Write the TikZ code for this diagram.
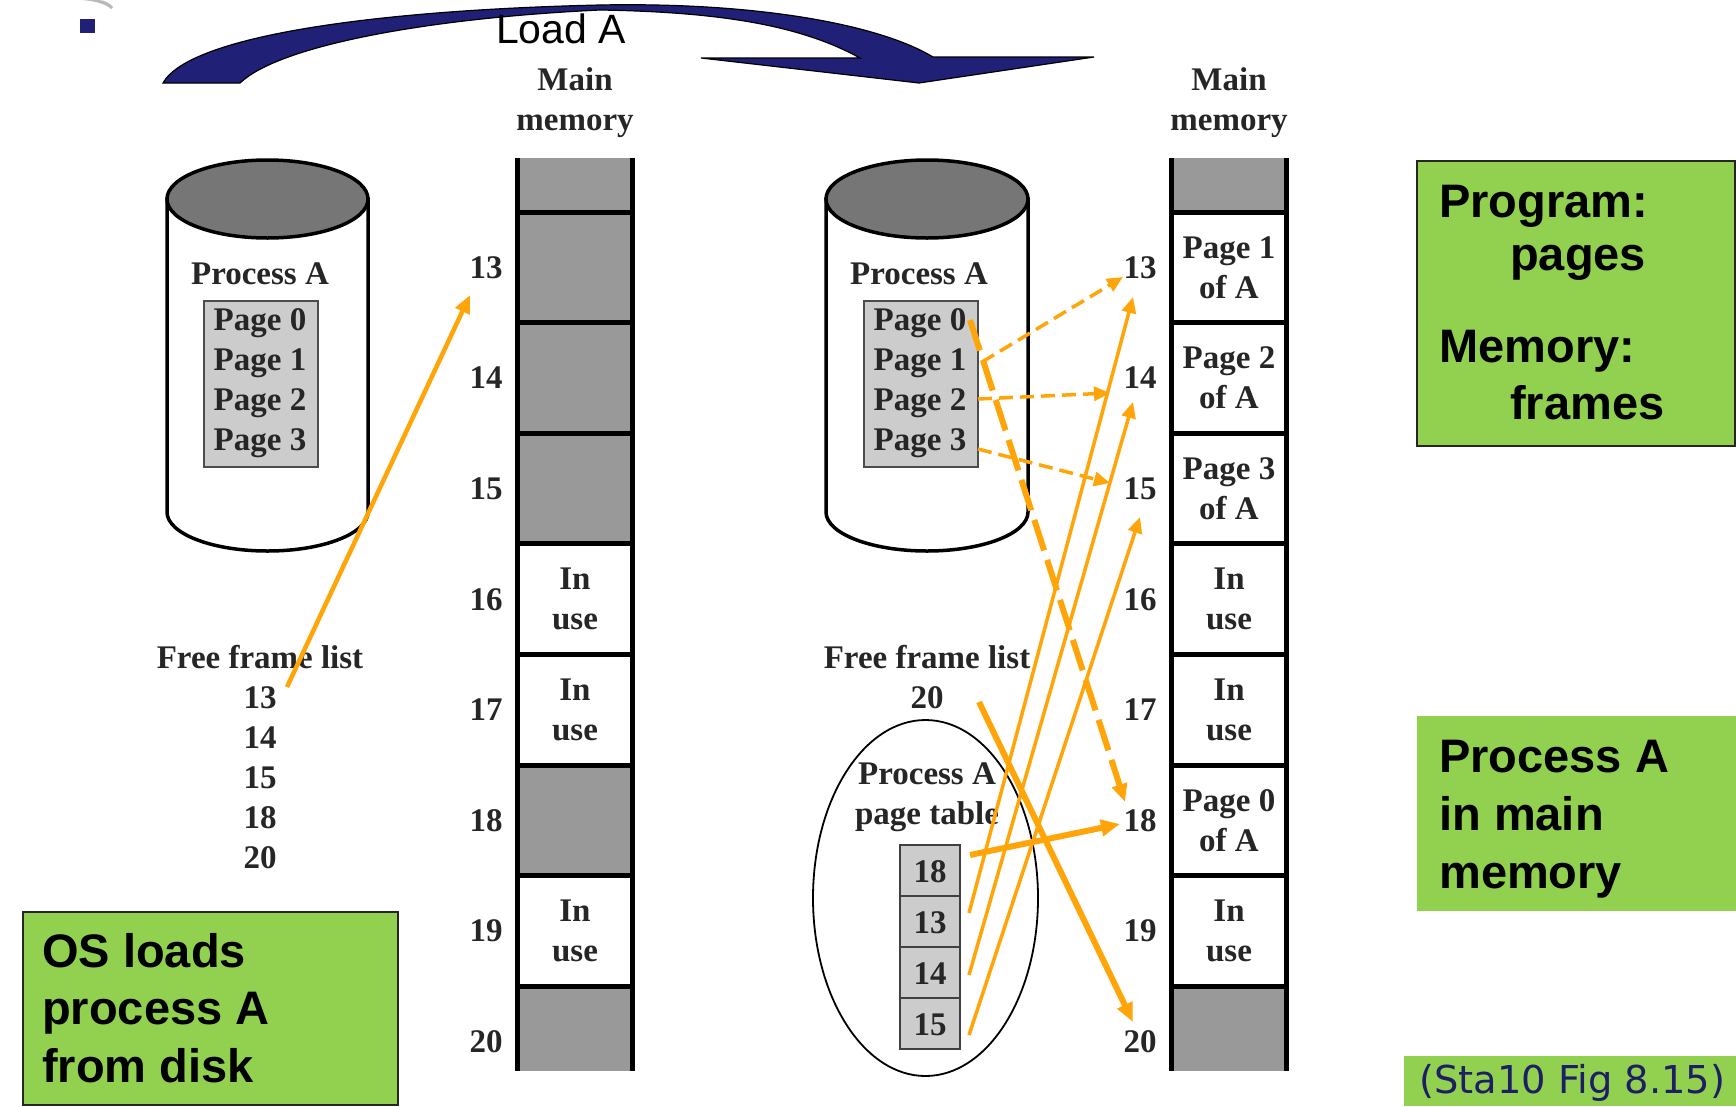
\documentclass[tikz,border=0pt]{standalone}
\usepackage{fontspec}
\setmainfont{Liberation Serif}
\newfontfamily\arialfont{Liberation Sans}
\newfontfamily\dejafont{DejaVu Sans}
\usetikzlibrary{arrows.meta}
\definecolor{memgrey}{RGB}{153,153,153}
\definecolor{cyltop}{RGB}{118,118,118}
\definecolor{pagegrey}{RGB}{204,204,204}
\definecolor{orng}{RGB}{255,165,10}
\definecolor{navyband}{RGB}{32,32,118}
\definecolor{boxgreen}{RGB}{146,208,80}
\definecolor{citeblue}{RGB}{30,30,100}
\begin{document}
\begin{tikzpicture}[x=1pt,y=-1pt,
  lbl/.style={font=\fontsize{33}{40}\selectfont\bfseries, inner sep=0pt, text=black!85},
  sepline/.style={draw=black, line width=5pt},
  gtext/.style={font=\arialfont\fontsize{47}{57.5}\selectfont\bfseries, inner sep=0pt, text=black},
  thinarrow/.style={draw=orng, line width=3.5pt, -{Triangle[length=16pt,width=14pt]}},
  thickarrow/.style={draw=orng, line width=6pt, -{Triangle[length=19pt,width=16pt]}},
  thindash/.style={draw=orng, line width=3.5pt, dash pattern=on 14pt off 7pt, -{Triangle[length=16pt,width=14pt]}},
  thickdash/.style={draw=orng, line width=6pt, dash pattern=on 32pt off 10pt, -{Triangle[length=18pt,width=15pt]}}
]
\useasboundingbox (0,0) rectangle (1736,1106);
\fill[white] (0,0) rectangle (1736,1106);

% top-left decoration
\fill[gray!55] (82,0) .. controls (95,1) and (106,4) .. (111,9) -- (113,7) .. controls (110,3) and (104,0) .. (98,0) -- cycle;
\fill[navyband] (80,19) rectangle (95,33);

% Load A arrow
\filldraw[fill=navyband, draw=black, line width=1.2pt]
  (163,83) .. controls (190,35) and (380,10) .. (600,5)
  .. controls (760,2) and (880,25) .. (933,57)
  -- (1094,57) -- (919,83) -- (701,58) -- (860,58)
  .. controls (800,25) and (720,12) .. (600,10)
  .. controls (430,18) and (280,45) .. (240,83) -- cycle;
\node[font=\arialfont\fontsize{41}{48}\selectfont, anchor=base, inner sep=0pt] (loadA) at (561,43) {Load A};

% ---------- LEFT main memory ----------
\node[lbl, anchor=base] (lmain) at (575,90) {Main};
\node[lbl, anchor=base] (lmem) at (575,130) {memory};
\fill[memgrey] (515,158) rectangle (635,1071);
\fill[white] (515,543.8) rectangle (635,765);
\fill[white] (515,875.6) rectangle (635,986.2);
\draw[sepline] (517.5,158) -- (517.5,1071);
\draw[sepline] (632.5,158) -- (632.5,1071);
\foreach \yy in {212,322.6,433.2,543.8,654.4,765,875.6,986.2}
  \draw[sepline] (515,\yy) -- (635,\yy);
\node[lbl, align=center] (l16) at (575,599.1) {In\\use};
\node[lbl, align=center] (l17) at (575,709.7) {In\\use};
\node[lbl, align=center] (l19) at (575,930.9) {In\\use};
\node[lbl, anchor=base] (ln13) at (486,278.3) {13};
\node[lbl, anchor=base] (ln14) at (486,388.9) {14};
\node[lbl, anchor=base] (ln15) at (486,499.5) {15};
\node[lbl, anchor=base] (ln16) at (486,610.1) {16};
\node[lbl, anchor=base] (ln17) at (486,720.7) {17};
\node[lbl, anchor=base] (ln18) at (486,831.3) {18};
\node[lbl, anchor=base] (ln19) at (486,941.9) {19};
\node[lbl, anchor=base] (ln20) at (486,1052.5) {20};

% left cylinder
\filldraw[fill=white, draw=black, line width=3.5pt] (167,199) -- (167,512) arc[start angle=180, end angle=0, x radius=100.5, y radius=39] -- (368,199) -- cycle;
\filldraw[fill=cyltop, draw=black, line width=3.5pt] (267.5,199) ellipse [x radius=100.5, y radius=39];
\node[lbl, anchor=base] (lproc) at (260,284) {Process A};
\draw[fill=pagegrey, draw=black!70, line width=2pt] (204,301) rectangle (318,467);
\node[lbl, anchor=base] (lp0) at (260,330) {Page 0};
\node[lbl, anchor=base] (lp1) at (260,370) {Page 1};
\node[lbl, anchor=base] (lp2) at (260,410) {Page 2};
\node[lbl, anchor=base] (lp3) at (260,450) {Page 3};

% left free frame list
\node[lbl, anchor=base] (lfree) at (260,668) {Free frame list};
\node[lbl, anchor=base] (lf13) at (260,708) {13};
\node[lbl, anchor=base] (lf14) at (260,748) {14};
\node[lbl, anchor=base] (lf15) at (260,788) {15};
\node[lbl, anchor=base] (lf18) at (260,828) {18};
\node[lbl, anchor=base] (lf20) at (260,868) {20};

% ---------- RIGHT main memory ----------
\node[lbl, anchor=base] (rmain) at (1229,90) {Main};
\node[lbl, anchor=base] (rmem) at (1229,130) {memory};
\fill[memgrey] (1169,158) rectangle (1289,1071);
\fill[white] (1169,212) rectangle (1289,986.2);
\draw[sepline] (1171.5,158) -- (1171.5,1071);
\draw[sepline] (1286.5,158) -- (1286.5,1071);
\foreach \yy in {212,322.6,433.2,543.8,654.4,765,875.6,986.2}
  \draw[sepline] (1169,\yy) -- (1289,\yy);
\node[lbl, align=center] (r13) at (1229,267.3) {Page 1\\of A};
\node[lbl, align=center] (r14) at (1229,377.9) {Page 2\\of A};
\node[lbl, align=center] (r15) at (1229,488.5) {Page 3\\of A};
\node[lbl, align=center] (r16) at (1229,599.1) {In\\use};
\node[lbl, align=center] (r17) at (1229,709.7) {In\\use};
\node[lbl, align=center] (r18) at (1229,820.3) {Page 0\\of A};
\node[lbl, align=center] (r19) at (1229,930.9) {In\\use};
\node[lbl, anchor=base] (rn13) at (1140,278.3) {13};
\node[lbl, anchor=base] (rn14) at (1140,388.9) {14};
\node[lbl, anchor=base] (rn15) at (1140,499.5) {15};
\node[lbl, anchor=base] (rn16) at (1140,610.1) {16};
\node[lbl, anchor=base] (rn17) at (1140,720.7) {17};
\node[lbl, anchor=base] (rn18) at (1140,831.3) {18};
\node[lbl, anchor=base] (rn19) at (1140,941.9) {19};
\node[lbl, anchor=base] (rn20) at (1140,1052.5) {20};

% right cylinder
\filldraw[fill=white, draw=black, line width=3.5pt] (826,199) -- (826,512) arc[start angle=180, end angle=0, x radius=101, y radius=39] -- (1028,199) -- cycle;
\filldraw[fill=cyltop, draw=black, line width=3.5pt] (927,199) ellipse [x radius=101, y radius=39];
\node[lbl, anchor=base] (rproc) at (919,284) {Process A};
\draw[fill=pagegrey, draw=black!70, line width=2pt] (864,301) rectangle (978,467);
\node[lbl, anchor=base] (rp0) at (920,330) {Page 0};
\node[lbl, anchor=base] (rp1) at (920,370) {Page 1};
\node[lbl, anchor=base] (rp2) at (920,410) {Page 2};
\node[lbl, anchor=base] (rp3) at (920,450) {Page 3};

% right free frame list & page table
\node[lbl, anchor=base] (rfree) at (927,668) {Free frame list};
\node[lbl, anchor=base] (rf20) at (927,708) {20};
\draw[black, line width=1.8pt] (925.5,898) ellipse [x radius=112.5, y radius=178];
\node[lbl, anchor=base] (ptproc) at (927,784) {Process A};
\node[lbl, anchor=base] (pttab) at (927,824) {page table};
\foreach \yy/\vv/\nm in {845/18/pt18, 896/13/pt13, 947/14/pt14, 998/15/pt15}{
  \draw[fill=pagegrey, draw=black!75, line width=2pt] (900,\yy) rectangle (960,\yy+51);
  \node[lbl, anchor=base] (\nm) at (930,\yy+37) {\vv};
}

% ---------- orange arrows ----------
\coordinate (a0s) at (287,687); \coordinate (a0e) at (470,295);
\draw[orng, line width=4.5pt, -{Triangle[length=18pt,width=15pt]}] (a0s) -- (a0e);

\coordinate (d1s) at (982,362); \coordinate (d1e) at (1123,277);
\coordinate (d2s) at (978,399); \coordinate (d2e) at (1110,393);
\coordinate (d3s) at (978,449); \coordinate (d3e) at (1110,483);
\coordinate (d0s) at (970,320); \coordinate (d0e) at (1125,802);
\draw[thindash] (d1s) -- (d1e);
\draw[thindash] (d2s) -- (d2e);
\draw[thindash] (d3s) -- (d3e);
\draw[thickdash] (d0s) -- (d0e);

\coordinate (s13s) at (969,913); \coordinate (s13e) at (1133,297);
\coordinate (s14s) at (969,975); \coordinate (s14e) at (1133,402);
\coordinate (s15s) at (969,1035); \coordinate (s15e) at (1140,517);
\coordinate (s18s) at (970,855); \coordinate (s18e) at (1120,824);
\coordinate (s20s) at (979,702); \coordinate (s20e) at (1133,1022);
\draw[thinarrow] (s13s) -- (s13e);
\draw[thinarrow] (s14s) -- (s14e);
\draw[thinarrow] (s15s) -- (s15e);
\draw[thickarrow] (s18s) -- (s18e);
\draw[thickarrow] (s20s) -- (s20e);

% ---------- green boxes ----------
\filldraw[fill=boxgreen, draw=black!85, line width=1.8pt] (23,912) rectangle (398,1105);
\node[gtext, anchor=base west] (os1) at (42,967) {OS loads};
\node[gtext, anchor=base west] (os2) at (42,1024.5) {process A};
\node[gtext, anchor=base west] (os3) at (42,1082) {from disk};

\filldraw[fill=boxgreen, draw=black!85, line width=1.8pt] (1417,161) rectangle (1735,446);
\node[gtext, anchor=base west] (pg1) at (1439,217) {Program:};
\node[gtext, anchor=base west] (pg2) at (1510,270) {pages};
\node[gtext, anchor=base west] (pg3) at (1439,362) {Memory:};
\node[gtext, anchor=base west] (pg4) at (1510,419) {frames};

\fill[boxgreen] (1417,716) rectangle (1736,911);
\node[gtext, anchor=base west] (pa1) at (1439,772) {Process A};
\node[gtext, anchor=base west] (pa2) at (1439,830) {in main};
\node[gtext, anchor=base west] (pa3) at (1439,888) {memory};

\fill[boxgreen] (1404,1056) rectangle (1736,1106);
\node[font=\dejafont\fontsize{38.4}{46}\selectfont, text=citeblue, anchor=base west, inner sep=0pt] (cite) at (1419,1093) {(Sta10 Fig 8.15)};
\end{tikzpicture}
\end{document}
